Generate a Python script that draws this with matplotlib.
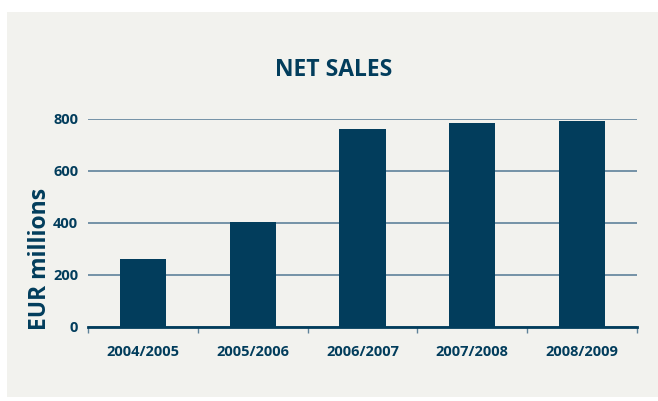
import matplotlib
matplotlib.use("Agg")
import matplotlib.pyplot as plt
from matplotlib.patches import Rectangle
import numpy as np

categories = ["2004/2005", "2005/2006", "2006/2007", "2007/2008", "2008/2009"]
net_sales = [261, 404, 762, 785, 792]
yticks = [0, 200, 400, 600, 800]

navy = "#023d5c"
grid_c = "#5f829a"
bg = "#f2f2ee"

plt.rcParams['font.family'] = ['Open Sans', 'DejaVu Sans']

fig = plt.figure(figsize=(6.58, 4.01), dpi=100)
fig.patch.set_facecolor("white")
bgax = fig.add_axes([7/658, 0.01, 1 - 7/658, 1 - 12/401 - 0.01], zorder=0)
bgax.set_facecolor(bg)
bgax.axis("off")
bgax.add_patch(Rectangle((0, 0), 1, 1, transform=bgax.transAxes, facecolor=bg, edgecolor="none"))

ax = fig.add_axes([88/658, 1 - 326.7/401, 549/658, (326.7 - 119) / 401], zorder=2)
ax.set_facecolor("none")
x = np.arange(len(categories))
ax.bar(x, net_sales, width=0.42, color=navy, zorder=3)
ax.set_xlim(-0.5, len(categories) - 0.5)
ax.set_ylim(0, 800)
ax.set_yticks(yticks)
ax.set_yticklabels([str(v) for v in yticks], fontsize=10.5, fontweight="bold", color=navy)
ax.set_xticks(x)
ax.set_xticklabels(categories, fontsize=10.5, fontweight="bold", color=navy)
ax.set_xticks(np.arange(len(categories) + 1) - 0.5, minor=True)
ax.tick_params(axis="x", which="major", length=0, pad=13)
ax.tick_params(axis="x", which="minor", length=4, width=1, color=grid_c, direction="out")
ax.tick_params(axis="y", length=0, pad=7)
for s in ["top", "right", "left"]:
    ax.spines[s].set_visible(False)
ax.spines["bottom"].set_color(navy)
ax.spines["bottom"].set_linewidth(2)
ax.spines["bottom"].set_zorder(4)
ax.yaxis.grid(True, color=grid_c, linewidth=1.2)
ax.set_axisbelow(True)
fig.text(40/658, 1 - 259/401, "EUR millions", rotation=90, ha="center", va="center",
         fontsize=16.5, fontweight="bold", color=navy, zorder=3)
fig.text(333.5/658, 1 - 70/401, "NET SALES", ha="center", va="center",
         fontsize=16.5, fontweight="bold", color=navy, zorder=3)

fig.savefig("out.png", dpi=100, facecolor=fig.get_facecolor())
